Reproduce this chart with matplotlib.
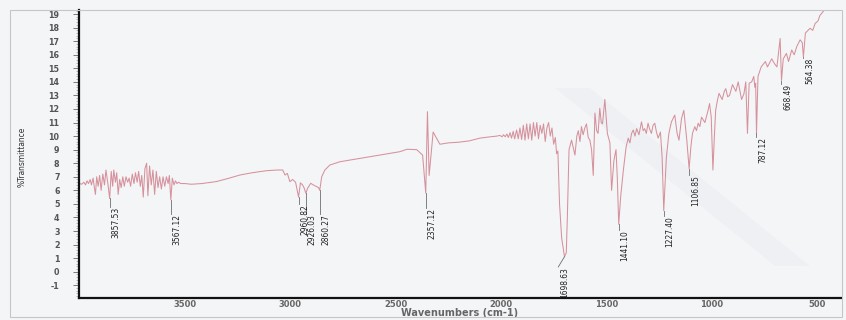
import matplotlib
matplotlib.use('Agg')
import matplotlib.pyplot as plt
import matplotlib.transforms as mtransforms
from matplotlib.patches import Rectangle, Polygon
from matplotlib.ticker import MultipleLocator

plt.rcParams['axes.unicode_minus'] = False

# IR spectrum, wavenumber (cm-1) vs %T
wavenumber = [
    4000, 3990, 3980, 3972, 3965, 3958, 3950, 3944, 3936, 3930, 3925, 3919,
    3912, 3905, 3898, 3890, 3882, 3875, 3866, 3857.53, 3850, 3843, 3838, 3830,
    3824, 3817, 3810, 3803, 3795, 3788, 3780, 3772, 3765, 3758, 3750, 3742,
    3735, 3727, 3720, 3712, 3705, 3698, 3690, 3682, 3676, 3668, 3660, 3652,
    3644, 3636, 3628, 3620, 3612, 3604, 3596, 3588, 3580, 3574, 3567.12, 3560,
    3552, 3545, 3538, 3530, 3520, 3500, 3470, 3420, 3350, 3290, 3239, 3180,
    3112, 3060, 3036, 3025, 3014, 3002, 2989, 2975, 2960.82, 2952, 2942, 2935,
    2926.03, 2918, 2903, 2891, 2875, 2866, 2860.27, 2851, 2836, 2812, 2764, 2669,
    2575, 2480, 2446, 2400, 2372, 2357.12, 2349, 2341, 2322, 2290, 2250, 2200,
    2150, 2100, 2050, 2020, 2005, 1995, 1988, 1980, 1972, 1965, 1957, 1950,
    1942, 1935, 1926, 1918, 1910, 1902, 1894, 1886, 1878, 1870, 1862, 1854,
    1846, 1838, 1830, 1822, 1814, 1806, 1798, 1790, 1782, 1774, 1766, 1758,
    1750, 1742, 1736, 1730, 1722, 1712, 1698.63, 1690, 1685, 1677, 1665, 1649,
    1640, 1633, 1625, 1618, 1610, 1602, 1594, 1586, 1578, 1570, 1562, 1554,
    1546, 1539, 1531, 1524, 1518, 1507, 1495, 1483, 1475, 1464, 1454, 1448,
    1441.10, 1432, 1419, 1406, 1396, 1388, 1380, 1372, 1364, 1356, 1345, 1333,
    1325, 1318, 1310, 1302, 1294, 1286, 1278, 1270, 1262, 1254, 1243, 1235,
    1227.40, 1215, 1203, 1191, 1175, 1164, 1155, 1143, 1132, 1118, 1106.85, 1098,
    1091, 1080, 1072, 1064, 1056, 1048, 1040, 1032, 1017, 1010, 1002, 994,
    987, 981, 973, 965, 950, 940, 933, 924, 915, 901, 885, 874,
    858, 847, 838, 830, 822, 810, 800, 795, 791, 787.12, 780, 765,
    745, 735, 715, 700, 690, 675, 668.49, 660, 645, 635, 620, 608,
    596, 580, 570, 564.38, 555, 533, 520, 509, 495, 486, 470, 455,
    440,
]
transmittance = [
    6.5, 6.45, 6.6, 6.4, 6.7, 6.5, 6.8, 6.4, 6.9, 6.2, 5.7, 7.0,
    6.3, 7.1, 6.0, 7.2, 6.4, 7.5, 6.5, 5.4, 7.4, 6.3, 7.5, 6.6,
    7.3, 5.7, 6.8, 6.2, 7.0, 6.3, 7.0, 6.6, 6.9, 6.3, 7.2, 6.5,
    7.3, 6.6, 7.4, 6.3, 7.1, 5.5, 7.6, 8.0, 5.6, 7.8, 6.4, 7.5,
    5.7, 7.4, 6.2, 7.0, 6.1, 7.0, 6.3, 7.0, 6.5, 7.1, 5.3, 6.9,
    6.4, 6.7, 6.5, 6.6, 6.5, 6.5, 6.45, 6.5, 6.65, 6.9, 7.13, 7.3,
    7.45, 7.5, 7.5, 7.13, 7.25, 6.64, 6.8, 6.6, 5.5, 6.55, 6.4, 6.2,
    5.78, 6.15, 6.52, 6.4, 6.27, 6.2, 6.0, 7.0, 7.5, 7.87, 8.11, 8.36,
    8.6, 8.85, 9.03, 9.0, 8.6, 5.8, 11.8, 7.1, 10.3, 9.4, 9.5, 9.55,
    9.65, 9.85, 9.95, 10.0, 10.05, 9.95, 10.1, 9.95, 10.15, 9.9, 10.25, 9.85,
    10.35, 9.8, 10.45, 9.8, 10.6, 9.75, 10.8, 9.7, 10.9, 9.8, 10.9, 9.7,
    11.0, 10.0, 11.0, 9.8, 10.8, 10.2, 10.9, 9.6, 10.6, 11.0, 10.0, 10.6,
    9.4, 9.9, 8.7, 8.9, 5.0, 2.5, 1.1, 1.4, 4.0, 9.0, 9.7, 8.6,
    10.0, 10.4, 9.6, 10.7, 10.1, 10.6, 10.9, 9.9, 9.7, 9.0, 7.1, 11.7,
    10.4, 10.2, 12.05, 11.0, 10.9, 12.7, 10.2, 9.5, 6.0, 8.2, 9.0, 7.0,
    3.5, 5.5, 7.5, 9.2, 9.85, 9.5, 10.2, 10.45, 10.0, 10.55, 10.1, 11.05,
    10.4, 10.55, 10.2, 10.95, 10.5, 10.2, 10.8, 10.95, 10.3, 9.85, 10.3, 8.4,
    4.5, 8.4, 10.2, 11.05, 11.55, 10.2, 9.7, 11.3, 11.9, 9.7, 7.6, 9.3,
    10.2, 10.7, 10.4, 10.95, 10.7, 11.4, 11.2, 11.0, 11.9, 12.4, 11.4, 7.5,
    10.0, 11.9, 12.6, 13.15, 12.7, 13.3, 13.5, 12.9, 13.0, 13.8, 13.3, 14.0,
    12.7, 13.1, 14.0, 10.2, 13.9, 14.0, 14.4, 13.6, 13.9, 10.2, 14.4, 15.1,
    15.5, 15.1, 15.7, 15.3, 15.1, 17.2, 14.1, 15.7, 16.1, 15.5, 16.35, 16.0,
    16.6, 17.1, 16.9, 15.85, 17.6, 17.95, 17.8, 18.3, 18.5, 18.9, 19.2, 19.5,
    20.0,
]

# labelled peaks: position, text, where the label starts, label x
peak_pos = [3857.53, 3567.12, 2960.82, 2926.03, 2860.27, 2357.12, 1698.63,
            1441.10, 1227.40, 1106.85, 787.12, 668.49, 564.38]
peak_text = ['3857.53', '3567.12', '2960.82', '2926.03', '2860.27', '2357.12',
             '1698.63', '1441.10', '1227.40', '1106.85', '787.12', '668.49',
             '564.38']
label_top = [4.77, 4.25, 4.99, 4.25, 4.25, 4.7, 0.35, 3.07, 4.1, 7.13, 9.95,
             13.85, 15.75]
label_x = [3857.53, 3567.12, 2960.82, 2926.03, 2860.27, 2357.12, 1728,
           1441.10, 1227.40, 1106.85, 787.12, 668.49, 564.38]

y_ticks = list(range(-1, 20))
x_ticks = [3500, 3000, 2500, 2000, 1500, 1000, 500]

paper = '#f4f5f7'

fig = plt.figure(figsize=(8.46, 3.2), dpi=100, facecolor=paper)
ax = fig.add_axes([79 / 846, 22 / 320, 762 / 846, 288 / 320])
ax.set_facecolor('none')

ax.plot(wavenumber, transmittance, color='#d6919c', lw=0.75)

# peak markers
tip_of = dict(zip(wavenumber, transmittance))
text_tr = mtransforms.offset_copy(ax.transData, fig=fig, x=1.2, y=0, units='points')
for pos, txt, top, lx in zip(peak_pos, peak_text, label_top, label_x):
    tip = tip_of[pos]
    ax.plot([pos, lx], [tip, top], color='#6e6e6e', lw=0.6)
    ax.text(lx, top, txt, rotation=90, ha='left', va='top', fontsize=6,
            family='DejaVu Sans', fontstretch='condensed', color='#222222',
            transform=text_tr)

ax.set_xlim(4003, 386)
ax.set_ylim(-1.94, 19.3)

ax.set_yticks(y_ticks)
ax.yaxis.set_minor_locator(MultipleLocator(0.2))
ax.set_xticks(x_ticks)

for side in ['top', 'right']:
    ax.spines[side].set_visible(False)
for side in ['left', 'bottom']:
    ax.spines[side].set_linewidth(1.6)
    ax.spines[side].set_color('#111111')

ax.tick_params(axis='y', which='major', length=4, width=0.6, pad=10,
               labelsize=5.8, labelcolor='#555555', color='#666666')
ax.tick_params(axis='y', which='minor', length=2, width=0.4, color='#888888')
ax.tick_params(axis='x', which='major', length=0, pad=1.5,
               labelsize=6, labelcolor='#666666')
for lab in ax.get_yticklabels() + ax.get_xticklabels():
    lab.set_fontweight('bold')

ax.set_xlabel('Wavenumbers (cm-1)', fontsize=7, color='#666666',
              fontweight='bold', labelpad=-0.5)
fig.text(22 / 846, 1 - 157 / 320, '%Transmittance', rotation=90, ha='center',
         va='center', fontsize=6, family='DejaVu Sans', fontstretch='condensed',
         color='#333333')

# page edge and the soft diagonal shadow across the sheet
fig.patches.append(Rectangle((10 / 846, 3 / 320), 832 / 846, 307 / 320,
                             transform=fig.transFigure, fill=False,
                             edgecolor='#c4c6ca', lw=0.8))
fig.patches.append(Polygon([(555 / 846, 1 - 88 / 320), (590 / 846, 1 - 88 / 320),
                            (810 / 846, 1 - 266 / 320), (775 / 846, 1 - 266 / 320)],
                           closed=True, transform=fig.transFigure,
                           facecolor='#8a93b0', alpha=0.045, edgecolor='none'))

fig.savefig('out.png', dpi=100, facecolor=paper)
